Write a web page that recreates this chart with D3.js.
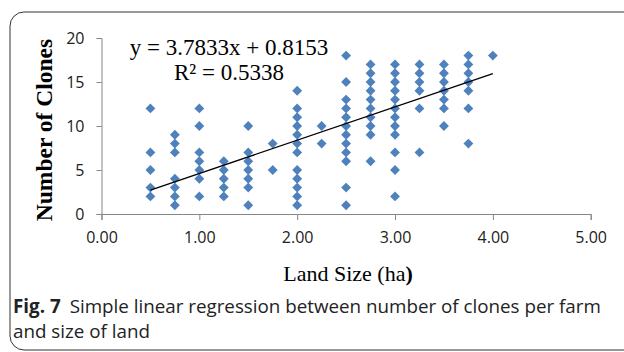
<!DOCTYPE html>
<html>
<head>
<meta charset="utf-8">
<script src="https://cdn.jsdelivr.net/npm/d3@7"></script>
<style>
  body { margin: 0; background: #fff; }
  svg { display: block; }
</style>
</head>
<body>
<svg width="624" height="352"></svg>
<script>
// land size (ha) of each column of farms, and clone counts seen at that size
var landSizes = [0.5, 0.75, 1.0, 1.25, 1.5, 1.75, 2.0, 2.25, 2.5, 2.75, 3.0, 3.25, 3.5, 3.75, 4.0];
var clonesBySize = [
    [12, 7, 5, 3, 2],
    [9, 8, 7, 4, 3, 2, 1],
    [12, 10, 7, 6, 5, 4, 2],
    [6, 5, 4, 3, 2],
    [10, 7, 6, 5, 4, 3, 1],
    [8, 5],
    [14, 12, 11, 10, 9, 8, 7, 5, 4, 3, 2, 1],
    [10, 8],
    [18, 15, 13, 12, 11, 10, 9, 8, 7, 6, 3, 1],
    [17, 16, 15, 14, 13, 12, 11, 10, 9, 6],
    [17, 16, 15, 14, 13, 12, 11, 10, 9, 7, 5, 2],
    [17, 16, 15, 14, 12, 7],
    [17, 16, 15, 14, 13, 12, 10],
    [18, 17, 16, 15, 14, 12, 8],
    [18]
];
var xTicks = [0, 1, 2, 3, 4, 5];
var yTicks = [0, 5, 10, 15, 20];
var slope = 3.7833, intercept = 0.8153, rSquared = "0.5338";
var trendRange = [0.5, 4.0];

var points = [];
landSizes.forEach(function(x, i) {
    clonesBySize[i].forEach(function(y) { points.push({x: x, y: y}); });
});

var svg = d3.select("svg");

// outer figure frame
svg.append("rect")
    .attr("x", 10).attr("y", 12)
    .attr("width", 640).attr("height", 338)
    .attr("rx", 14).attr("ry", 14)
    .attr("fill", "none")
    .attr("stroke", "#333")
    .attr("stroke-width", 1);

var x = d3.scaleLinear().domain([0, 5]).range([101.5, 590.7]);
var y = d3.scaleLinear().domain([0, 20]).range([214, 38]);

var axisColor = "#868686";

var yAxis = svg.append("g")
    .attr("transform", "translate(" + x(0) + ",0)")
    .call(d3.axisLeft(y).tickValues(yTicks).tickSize(5).tickPadding(12).tickFormat(d3.format("d")));
var xAxis = svg.append("g")
    .attr("transform", "translate(0," + y(0) + ")")
    .call(d3.axisBottom(x).tickValues(xTicks).tickSize(6).tickPadding(12).tickFormat(d3.format(".2f")));

[xAxis, yAxis].forEach(function(g) {
    g.select(".domain").attr("stroke", axisColor);
    g.selectAll(".tick line").attr("stroke", axisColor);
    g.selectAll(".tick text")
        .attr("fill", "#222")
        .style("font-family", "'Open Sans', sans-serif")
        .style("font-size", "16px");
});

// markers
var diamond = d3.symbol().type(d3.symbolDiamond2).size(62);
svg.append("g")
    .selectAll("path")
    .data(points)
    .enter().append("path")
    .attr("d", diamond)
    .attr("transform", function(d) { return "translate(" + x(d.x) + "," + y(d.y) + ")"; })
    .attr("fill", "#4F81BD");

// linear trendline
svg.append("line")
    .attr("x1", x(trendRange[0])).attr("y1", y(slope * trendRange[0] + intercept))
    .attr("x2", x(trendRange[1])).attr("y2", y(slope * trendRange[1] + intercept))
    .attr("stroke", "#000")
    .attr("stroke-width", 1.3);

var serif = "'Liberation Serif', 'Times New Roman', serif";

svg.append("text")
    .attr("x", 229).attr("y", 55)
    .attr("text-anchor", "middle")
    .style("font-family", serif).style("font-size", "23px")
    .text("y = " + slope + "x + " + intercept);
svg.append("text")
    .attr("x", 229).attr("y", 80)
    .attr("text-anchor", "middle")
    .style("font-family", serif).style("font-size", "23px")
    .text("R² = " + rSquared);

// axis titles
svg.append("text")
    .attr("transform", "translate(52,130) rotate(-90)")
    .attr("text-anchor", "middle")
    .style("font-family", serif).style("font-size", "23.5px").style("font-weight", "bold")
    .text("Number of Clones");

var xt = svg.append("text")
    .attr("x", 348).attr("y", 281)
    .attr("text-anchor", "middle")
    .style("font-family", serif).style("font-size", "22px");
xt.append("tspan").text("Land Size (ha");
xt.append("tspan").style("font-weight", "bold").text(")");

// caption
var sans = "'Open Sans', sans-serif";
var cap = svg.append("text")
    .attr("x", 13).attr("y", 313)
    .style("font-family", sans).style("font-size", "18.8px").attr("fill", "#222");
cap.append("tspan").style("font-weight", "bold").text("Fig. 7");
cap.append("tspan").attr("dx", 9).text("Simple linear regression between number of clones per farm");
svg.append("text")
    .attr("x", 13).attr("y", 338)
    .style("font-family", sans).style("font-size", "18.8px").attr("fill", "#222")
    .text("and size of land");
</script>
</body>
</html>
